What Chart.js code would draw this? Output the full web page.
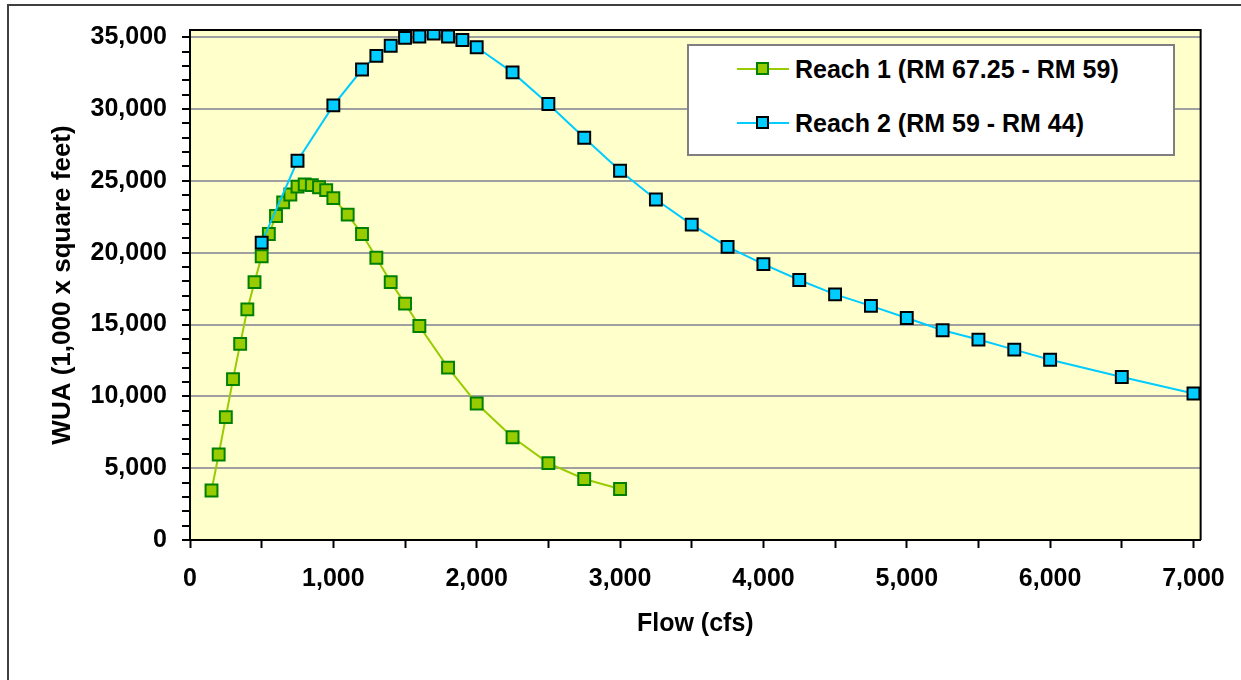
<!DOCTYPE html>
<html>
<head>
<meta charset="utf-8">
<script src="https://cdn.jsdelivr.net/npm/chart.js@4/dist/chart.umd.min.js"></script>
<style>
  html, body { margin: 0; padding: 0; background: #fff; overflow: hidden; }
  #wrap { position: relative; width: 1241px; height: 680px; }
  #c { position: absolute; left: 0; top: 0; }
  #legend {
    position: absolute; left: 687px; top: 44px; width: 488px; height: 112px;
    box-sizing: border-box; border: 2px solid #7f7f7f; background: #fff;
    font-family: "Liberation Sans", Arial, sans-serif; font-weight: bold; font-size: 25px; color: #000;
  }
  .row { position: absolute; left: 0; height: 30px; width: 100%; }
  .ln { position: absolute; left: 48px; width: 52px; top: 14px; height: 2px; }
  .mk { position: absolute; left: 67px; top: 8px; width: 9px; height: 9px; border: 2px solid; }
  .tx { position: absolute; left: 106px; top: 0; line-height: 30px; white-space: nowrap; }
</style>
</head>
<body>
<div id="wrap">
  <canvas id="c" width="1241" height="680"></canvas>
  <div id="legend"></div>
</div>
<script>
// ---- data ----
const reach1Flow = [150, 200, 250, 300, 350, 400, 450, 500, 550, 600, 650, 700, 750, 800, 850, 900, 950, 1000,
                    1100, 1200, 1300, 1400, 1500, 1600, 1800, 2000, 2250, 2500, 2750, 3000];
const reach1WUA  = [3450, 5950, 8550, 11200, 13650, 16050, 17950, 19750, 21300, 22550, 23500, 24050, 24600, 24750, 24700, 24550, 24350, 23800,
                    22650, 21300, 19650, 17950, 16450, 14900, 12000, 9500, 7150, 5350, 4250, 3550];
const reach2Flow = [500, 750, 1000, 1200, 1300, 1400, 1500, 1600, 1700, 1800, 1900, 2000, 2250, 2500, 2750, 3000,
                    3250, 3500, 3750, 4000, 4250, 4500, 4750, 5000, 5250, 5500, 5750, 6000, 6500, 7000];
const reach2WUA  = [20700, 26400, 30250, 32750, 33700, 34400, 34950, 35050, 35250, 35050, 34800, 34300, 32550, 30350, 28000, 25700,
                    23700, 21950, 20400, 19200, 18100, 17100, 16300, 15450, 14600, 13950, 13250, 12550, 11350, 10200];
const seriesNames = ["Reach 1 (RM 67.25 - RM 59)", "Reach 2 (RM 59 - RM 44)"];
const xTickValues = [0, 500, 1000, 1500, 2000, 2500, 3000, 3500, 4000, 4500, 5000, 5500, 6000, 6500, 7000];
const yTickValues = [];
for (let v = 0; v <= 35000; v += 1000) yTickValues.push(v);
const xTitle = "Flow (cfs)";
const yTitle = "WUA (1,000 x square feet)";

// ---- styles ----
const FONT = "'Liberation Sans', Arial, sans-serif";
const colors = [
  { line: '#99CC00', fill: '#99CC00', edge: '#008000' },
  { line: '#00CCFF', fill: '#00CCFF', edge: '#000000' }
];

function pts(xs, ys) { return xs.map((x, i) => ({ x: x, y: ys[i] })); }
const fmt = v => Number(v).toLocaleString('en-US');

const framePlugin = {
  id: 'frame',
  beforeDraw(chart) {
    const { ctx, chartArea: a } = chart;
    ctx.save();
    ctx.fillStyle = '#FFFFCC';
    ctx.fillRect(a.left, a.top, a.right - a.left, a.bottom - a.top);
    ctx.restore();
  },
  afterDraw(chart) {
    const { ctx, chartArea: a } = chart;
    ctx.save();
    ctx.strokeStyle = '#000';
    ctx.lineWidth = 2;
    ctx.beginPath();
    ctx.moveTo(a.left, a.top);
    ctx.lineTo(a.right, a.top);
    ctx.lineTo(a.right, a.bottom);
    ctx.stroke();
    // outer chart border
    ctx.strokeStyle = '#404040';
    ctx.lineWidth = 2;
    ctx.strokeRect(8, 5, 1400, 800);
    ctx.restore();
  }
};

new Chart(document.getElementById('c'), {
  type: 'scatter',
  data: {
    datasets: [
      {
        label: seriesNames[0], data: pts(reach1Flow, reach1WUA), showLine: true, order: 1,
        borderColor: colors[0].line, borderWidth: 2,
        pointStyle: 'rect', pointRadius: 8.4, pointHoverRadius: 8.4,
        pointBackgroundColor: colors[0].fill, pointBorderColor: colors[0].edge, pointBorderWidth: 2
      },
      {
        label: seriesNames[1], data: pts(reach2Flow, reach2WUA), showLine: true, order: 0,
        borderColor: colors[1].line, borderWidth: 2,
        pointStyle: 'rect', pointRadius: 8.4, pointHoverRadius: 8.4,
        pointBackgroundColor: colors[1].fill, pointBorderColor: colors[1].edge, pointBorderWidth: 2
      }
    ]
  },
  options: {
    responsive: false,
    animation: false,
    layout: { padding: { top: 26, right: 35, left: 0, bottom: 0 } },
    plugins: { legend: { display: false }, tooltip: { enabled: false } },
    scales: {
      x: {
        type: 'linear', min: 0, max: 7050,
        afterBuildTicks: s => { s.ticks = xTickValues.map(v => ({ value: v })); },
        afterFit: s => { s.height = 140; },
        ticks: {
          autoSkip: false, maxRotation: 0, padding: 16, color: '#000',
          font: { family: FONT, size: 25, weight: 'bold' },
          callback: v => (v % 1000 === 0 ? fmt(v) : '')
        },
        grid: { drawOnChartArea: false, drawTicks: true, tickLength: 8, tickColor: '#000', tickWidth: 2 },
        border: { color: '#000', width: 2 },
        title: { display: true, text: xTitle, color: '#000', padding: { top: 0, bottom: 41 },
                 font: { family: FONT, size: 25, weight: 'bold' } }
      },
      y: {
        type: 'linear', min: 0, max: 35500,
        afterBuildTicks: s => { s.ticks = yTickValues.map(v => ({ value: v })); },
        afterFit: s => { s.width = 190; },
        ticks: {
          autoSkip: false, padding: 15, color: '#000',
          font: { family: FONT, size: 25, weight: 'bold' },
          callback: v => (v % 5000 === 0 ? fmt(v) : '')
        },
        grid: {
          drawTicks: true, tickLength: 8, tickColor: '#000', tickWidth: 2, lineWidth: 2,
          color: c => (c.tick && c.tick.value % 5000 === 0 && c.tick.value > 0 ? '#a0a0a0' : 'rgba(0,0,0,0)')
        },
        border: { color: '#000', width: 2 },
        title: { display: true, text: yTitle, color: '#000', padding: { top: 47, bottom: 0 },
                 font: { family: FONT, size: 26, weight: 'bold' } }
      }
    }
  },
  plugins: [framePlugin]
});

// ---- HTML legend ----
const legend = document.getElementById('legend');
seriesNames.forEach((name, i) => {
  const row = document.createElement('div');
  row.className = 'row';
  row.style.top = (i === 0 ? 8 : 62) + 'px';
  const ln = document.createElement('div');
  ln.className = 'ln'; ln.style.background = colors[i].line;
  const mk = document.createElement('div');
  mk.className = 'mk'; mk.style.background = colors[i].fill; mk.style.borderColor = colors[i].edge;
  const tx = document.createElement('div');
  tx.className = 'tx'; tx.textContent = name;
  row.appendChild(ln); row.appendChild(mk); row.appendChild(tx);
  legend.appendChild(row);
});
</script>
</body>
</html>
